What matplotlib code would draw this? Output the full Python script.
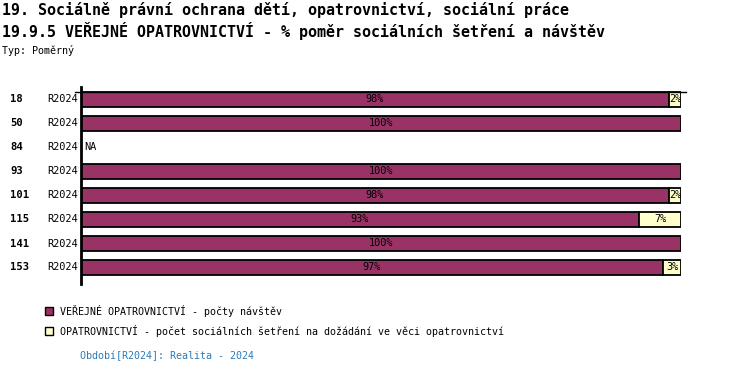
import matplotlib
matplotlib.use('Agg')
import matplotlib.pyplot as plt
import numpy as np

# data
kody = ['18', '50', '84', '93', '101', '115', '141', '153']
obdobi = ['R2024'] * 8
navstevy = [98, 100, np.nan, 100, 98, 93, 100, 97]
setreni = [2, 0, np.nan, 0, 2, 7, 0, 3]
popisky_nav = ['98%', '100%', '', '100%', '98%', '93%', '100%', '97%']
popisky_set = ['2%', '', '', '', '2%', '7%', '', '3%']

barva1 = '#993366'
barva2 = '#ffffcc'
mono = 'DejaVu Sans Mono'

W, H = 750, 374
fig = plt.figure(figsize=(W / 100, H / 100), dpi=100)
fig.patch.set_facecolor('white')

def fx(px):
    return px / W

def fy(py):
    return 1 - py / H

# titulky
fig.text(fx(2), fy(10), '19. Sociálně právní ochrana dětí, opatrovnictví, sociální práce',
         family=mono, fontsize=10.8, va='center', ha='left', weight='bold')
fig.text(fx(2), fy(31), '19.9.5 VEŘEJNÉ OPATROVNICTVÍ - % poměr sociálních šetření a návštěv',
         family=mono, fontsize=10.8, va='center', ha='left', weight='bold')
fig.text(fx(2), fy(50), 'Typ: Poměrný', family=mono, fontsize=7.2, va='center', ha='left')

ax = fig.add_axes([fx(81), fy(284), fx(600), (284 - 87) / H])
y = np.arange(len(kody))
vyska = 15 / 24

nav = np.nan_to_num(np.array(navstevy, dtype=float))
set = np.nan_to_num(np.array(setreni, dtype=float))
ok = ~np.isnan(np.array(navstevy, dtype=float))

ax.barh(y[ok], nav[ok], height=vyska, color=barva1, edgecolor='black', linewidth=1.3)
m2 = ok & (set > 0)
ax.barh(y[m2], set[m2], left=nav[m2], height=vyska, color=barva2, edgecolor='black', linewidth=1.3)

for i in range(len(kody)):
    # popisky radku
    fig.text(fx(10), fy(99.5 + 24 * i), kody[i], family=mono, fontsize=7.6, weight='bold',
             va='center', ha='left')
    fig.text(fx(47), fy(99.5 + 24 * i), obdobi[i], family=mono, fontsize=7.4,
             va='center', ha='left')
    if not ok[i]:
        ax.text(0.5, y[i], 'NA', family=mono, fontsize=7.4, va='center', ha='left')
        continue
    if popisky_nav[i]:
        ax.text(nav[i] / 2, y[i], popisky_nav[i], family=mono, fontsize=7.4, va='center', ha='center')
    if popisky_set[i]:
        ax.text(nav[i] + set[i] / 2, y[i], popisky_set[i], family=mono, fontsize=7.4,
                va='center', ha='center')

ax.set_xlim(0, 100)
ax.set_ylim(7 + 16.5 / 24, -12.5 / 24)
ax.axhline(-vyska / 2, xmin=-0.01, xmax=1.008, color='black', linewidth=1, clip_on=False)
for s in ['top', 'right', 'bottom']:
    ax.spines[s].set_visible(False)
ax.spines['left'].set_linewidth(2)
ax.set_xticks([])
ax.set_yticks([])
ax.patch.set_alpha(0)

# legenda
leg = [(barva1, 'VEŘEJNÉ OPATROVNICTVÍ - počty návštěv', 311),
       (barva2, 'OPATROVNICTVÍ - počet sociálních šetření na dožádání ve věci opatrovnictví', 331)]
for barva, txt, py in leg:
    fig.patches.append(plt.Rectangle((fx(45), fy(py + 4)), fx(8), 8 / H, facecolor=barva,
                                     edgecolor='black', linewidth=1, transform=fig.transFigure))
    fig.text(fx(60), fy(py), txt, family=mono, fontsize=7.2, va='center', ha='left')

fig.text(fx(80), fy(356), 'Období[R2024]: Realita - 2024', family=mono, fontsize=7.2,
         color='#2f7ab5', va='center', ha='left')

fig.savefig('out.png', dpi=100)
